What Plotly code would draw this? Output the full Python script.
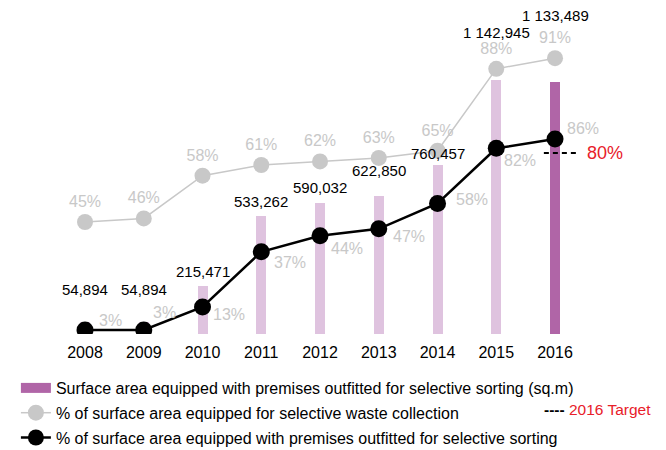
import plotly.graph_objects as go

years = ["2008", "2009", "2010", "2011", "2012", "2013", "2014", "2015", "2016"]
surface_sqm = [54894, 54894, 215471, 533262, 590032, 622850, 760457, 1142945, 1133489]
surface_labels = ["54,894", "54,894", "215,471", "533,262", "590,032",
                  "622,850", "760,457", "1 142,945", "1 133,489"]
pct_collection = [45, 46, 58, 61, 62, 63, 65, 88, 91]
pct_sorting = [3, 3, 13, 37, 44, 47, 58, 82, 86]
target_2016 = 80

bar_colors = ["#dfc3df"] * 8 + ["#b065a7"]
grey = "#c8c8c8"
font = "Liberation Sans"

fig = go.Figure()

fig.add_trace(go.Bar(
    x=years, y=surface_sqm, width=0.17,
    marker=dict(color=bar_colors, line=dict(width=0)),
    showlegend=False, yaxis="y",
))
# legend swatch for the bars
fig.add_trace(go.Scatter(
    x=[None], y=[None], mode="lines",
    line=dict(color="#b065a7", width=15),
    name="Surface area equipped with premises outfitted for selective sorting (sq.m)",
    legendgroup="a",
))

fig.add_trace(go.Scatter(
    x=years, y=pct_collection, mode="lines+markers+text",
    text=[f"{v}%" for v in pct_collection], textposition="top center",
    textfont=dict(color=grey, size=16, family=font),
    line=dict(color=grey, width=1.5),
    marker=dict(color=grey, size=16),
    name="% of surface area equipped for selective waste collection",
    legendgroup="b", yaxis="y2",
))

fig.add_trace(go.Scatter(
    x=years, y=pct_sorting, mode="lines+markers",
    line=dict(color="black", width=2.5),
    marker=dict(color="black", size=17),
    name="% of surface area equipped with premises outfitted for selective sorting",
    legendgroup="c", yaxis="y3",
))

# value labels above the bars
bar_shift = [22, 22, 4, 4, 5, 15, 1, 37, 56]
for i, (v, lab, s) in enumerate(zip(surface_sqm, surface_labels, bar_shift)):
    fig.add_annotation(x=i, y=v, xref="x", yref="y", text=lab, showarrow=False,
                       yanchor="bottom", yshift=s,
                       font=dict(size=15, color="black", family=font))

# percentage labels next to the black line
dx = [12, 7, 8, 11, 9, 12, 16, 6, 10]
dy = [10, 18, -7, -11, -13, -8, 4, -12, 11]
for i, (v, a, b) in enumerate(zip(pct_sorting, dx, dy)):
    fig.add_annotation(x=i, y=v, xref="x", yref="y3", text=f"{v}%", showarrow=False,
                       xanchor="left", yanchor="middle", xshift=a, yshift=b,
                       font=dict(size=16, color=grey, family=font))

# 2016 target
fig.add_shape(type="line", xref="x", yref="y3", x0=7.81, x1=8.41,
              y0=target_2016, y1=target_2016,
              line=dict(color="black", width=2, dash="5px,4px"))
fig.add_annotation(x=8.41, y=target_2016, xref="x", yref="y3",
                   text=f"{target_2016}%", showarrow=False,
                   xanchor="left", xshift=6,
                   font=dict(size=18, color="#e8202a", family=font))

fig.add_annotation(x=0.812, y=-0.233, xref="paper", yref="paper",
                   text="<span style='color:black'><b>----</b></span> 2016 Target",
                   showarrow=False, xanchor="left", yanchor="middle",
                   font=dict(size=15.5, color="#e8202a", family=font))

fig.update_layout(
    width=658, height=442,
    margin=dict(l=0, r=0, t=0, b=116, autoexpand=False),
    plot_bgcolor="white", paper_bgcolor="white",
    bargap=0, showlegend=True,
    xaxis=dict(type="category", range=[-1.311, 9.889], showgrid=False,
               showline=False, zeroline=False, ticks="outside", ticklen=4,
               tickcolor="rgba(0,0,0,0)", automargin=False,
               tickfont=dict(size=16, color="black", family=font)),
    yaxis=dict(range=[0, 1467000], visible=False),
    yaxis2=dict(range=[13.56, 105.08], overlaying="y", visible=False),
    yaxis3=dict(range=[1.26, 143.0], overlaying="y", visible=False),
    legend=dict(orientation="v", x=0.012, xanchor="left", y=-0.1135, yanchor="top",
                tracegroupgap=1, bgcolor="rgba(0,0,0,0)",
                font=dict(size=16, color="black", family=font)),
)

fig.write_html("out.html")
